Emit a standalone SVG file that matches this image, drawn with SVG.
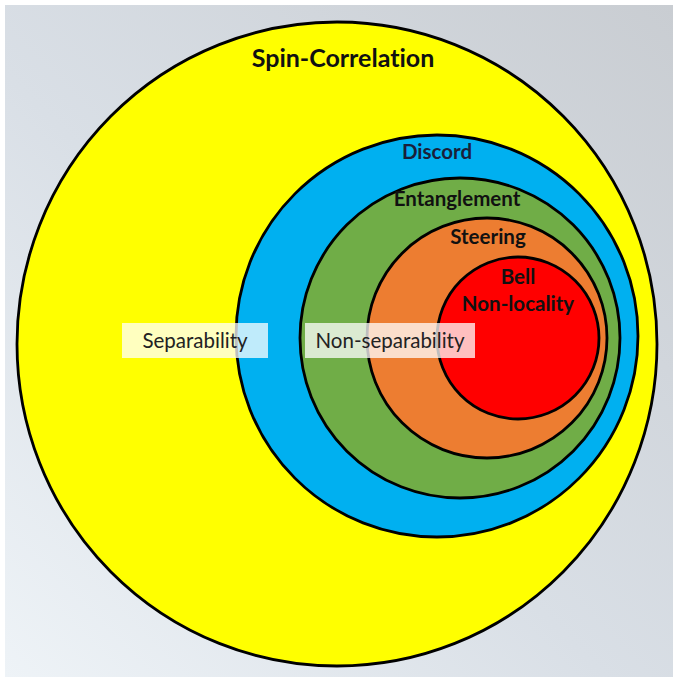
<svg xmlns="http://www.w3.org/2000/svg" width="673" height="677" viewBox="0 0 673 677">
<defs>
<linearGradient id="bg" x1="0" y1="1" x2="1" y2="0">
<stop offset="0" stop-color="#eef3f7"/>
<stop offset="0.45" stop-color="#d9dfe6"/>
<stop offset="1" stop-color="#c9cdd2"/>
</linearGradient>
</defs>
<style>
.ring{stroke:#000;stroke-width:2.8}
.t{font-family:Lato,"Open Sans","Liberation Sans",sans-serif;font-weight:bold;text-anchor:middle;fill:#111;font-size:20.5px;font-variant-ligatures:none}
.lbl{font-family:Lato,"Open Sans","Liberation Sans",sans-serif;text-anchor:middle;fill:#222;font-size:20.5px;font-variant-ligatures:none}
.box{fill:#fff;fill-opacity:0.75}
</style>
<rect width="673" height="677" fill="#fff"/>
<rect x="5" y="5" width="668" height="672" fill="url(#bg)"/>
<g id="spin-correlation">
<ellipse class="ring" cx="337" cy="344" rx="320" ry="322" fill="#ffff00"/>
<text class="t" x="343" y="67" style="font-size:25px">Spin-Correlation</text>
</g>
<g id="discord">
<circle class="ring" cx="437" cy="336" r="201" fill="#00b0f0"/>
<text class="t" x="437" y="159" style="fill:#1a1f3a">Discord</text>
</g>
<g id="entanglement">
<circle class="ring" cx="460" cy="338" r="160" fill="#70ad47"/>
<text class="t" x="457" y="206">Entanglement</text>
</g>
<g id="steering">
<circle class="ring" cx="487" cy="338" r="120" fill="#ed7d31"/>
<text class="t" x="488" y="244">Steering</text>
</g>
<g id="bell">
<circle class="ring" cx="518" cy="338" r="81" fill="#ff0000"/>
<text class="t" x="518" y="284">Bell</text>
<text class="t" x="518" y="311">Non-locality</text>
</g>
<g id="separability">
<rect class="box" x="122" y="323" width="146" height="35"/>
<text class="lbl" x="195" y="348">Separability</text>
</g>
<g id="non-separability">
<rect class="box" x="305" y="323" width="170" height="35"/>
<text class="lbl" x="390" y="348">Non-separability</text>
</g>
</svg>
